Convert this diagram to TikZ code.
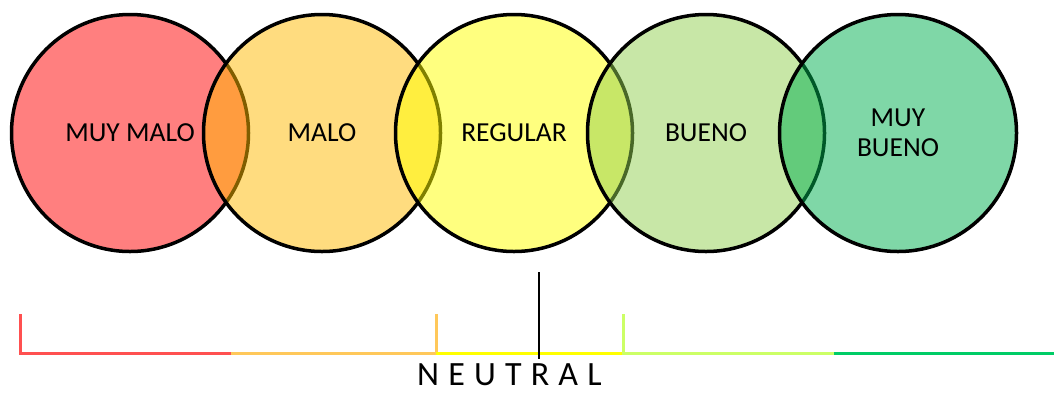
\documentclass[tikz,border=0pt]{standalone}
\usepackage{fontspec}
\setmainfont{Carlito}
\usepackage{tikz}
\usepackage{xcolor}

\definecolor{muymalo}{HTML}{FF0000}
\definecolor{malo}{HTML}{FFBA00}
\definecolor{regular}{HTML}{FFFF00}
\definecolor{bueno}{HTML}{92D050}
\definecolor{muybueno}{HTML}{00B050}
\definecolor{scalered}{HTML}{FF5050}
\definecolor{scaleorange}{HTML}{FFC85A}
\definecolor{scaleyellow}{HTML}{FFFF00}
\definecolor{scalelime}{HTML}{CCFF66}
\definecolor{scalegreen}{HTML}{00CC66}

\tikzset{
    rating/.style={circle, draw=black, line width=3.5pt, fill opacity=0.5,
        text opacity=1, minimum size=237pt, inner sep=0pt, align=center,
        font=\fontsize{27.5}{30}\selectfont},
    scaleline/.style={line width=3pt, line join=miter}
}

\begin{document}
\begin{tikzpicture}[x=1pt,y=-1pt]
    \useasboundingbox (0,0) rectangle (1054,392);

    % Circles
    \node[rating, fill=muymalo] (muymalo) at (130,133) {MUY MALO};
    \node[rating, fill=malo] (malo) at (322,133) {MALO};
    \node[rating, fill=regular] (regular) at (514,133) {REGULAR};
    \node[rating, fill=bueno] (bueno) at (706,133) {BUENO};
    \node[rating, fill=muybueno] (muybueno) at (898,133) {MUY\\BUENO};

    % Scale
    \draw[scaleline, scalered] (20,314) -- (20,353) -- (231,353);
    \draw[scaleline, scaleorange] (231,353) -- (436,353) -- (436,314);
    \draw[scaleline, scaleyellow] (436,353) -- (623,353);
    \draw[scaleline, scalelime] (623,314) -- (623,353) -- (834,353);
    \draw[scaleline, scalegreen] (834,353) -- (1054,353);

    % Neutral mark
    \coordinate (marktop) at (539,272);
    \coordinate (markend) at (539,359);
    \node[anchor=base west, inner sep=0pt,
        font=\fontsize{34}{36}\selectfont\addfontfeature{LetterSpace=27}]
        (neutral) at (417,385.5) {NEUTRAL};
    \draw[line width=2pt] (marktop) -- (markend);
\end{tikzpicture}
\end{document}
